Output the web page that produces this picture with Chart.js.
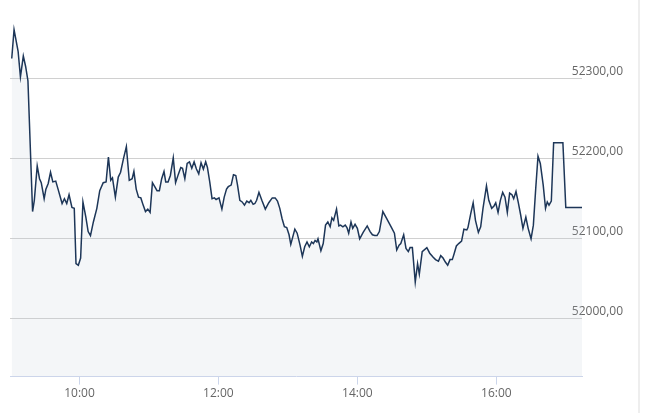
<!DOCTYPE html>
<html>
<head>
<meta charset="utf-8">
<script src="https://cdn.jsdelivr.net/npm/chart.js@4"></script>
<style>
html, body { margin: 0; padding: 0; background: #fff; }
#wrap { position: relative; width: 645px; height: 413px; }
#edge { position: absolute; left: 638px; top: 0; width: 2px; height: 413px; background: #eeeeee; }
</style>
</head>
<body>
<div id="wrap">
  <canvas id="chart" width="645" height="413"></canvas>
  <div id="edge"></div>
</div>
<script>
// minutes since midnight
const minutes = [541.5,543.5,547,549,551.5,553.5,555.5,559.5,561,563.5,565.5,567,569.5,571,573,575,577,579.5,581.5,585,
  587,589,591,593.5,595.5,597,599,601,603,605.5,607.5,609.5,612,615,617.5,620.5,623,625,627,628.5,
  631,633.5,635.5,638,640.5,643,645.5,647,649,651,653,655,657,659,661,663,665,667,669,671,
  673,674.5,676.5,678.5,681,683,685.5,687.5,689,691,693,695,697,699,701,703,705,707,709,710.5,
  712.5,714.5,716.5,718,720.5,723,725,727,728.5,731,733,735,736.5,738.5,740.5,742.5,744.5,746.5,748,750,
  751.5,753,755,757.5,760.5,763.5,766.5,769,771,773,775,777,779,781,782.5,786,788,790.5,792.5,794.5,
  796.5,798.5,800.5,802,803.5,805,806,808.5,810.5,812.5,814.5,816.5,818,819.5,822,824,825.5,827.5,829.5,831,
  832.5,834.5,836,838,840,842,845,848.5,851,853,855,857,859,862,865,866.5,869.5,872,874,876,
  877.5,880,882,884,885.5,887.5,890,892,893.5,896,900,902.5,905.5,907.5,910,912,914,916,918,920,
  922,923.5,925.5,927.5,930,932,934.5,935.5,938,940,942,944.5,946.5,948.5,951.5,953.5,956,958,959.5,961.5,
  963.5,965.5,967.5,969.5,971.5,973.5,975,977,979,981,983,985.5,987.5,990,992,994,996,998,1000.5,1002.5,
  1004,1005.5,1007.5,1009.5,1017.5,1020,1034];

const prices = [52325,52361,52334,52302,52328,52315,52297,52134,52148,52191,52175,52170,52150,52162,52169,52183,52171,52172,52162,52144,
  52150,52144,52155,52139,52138,52069,52067,52076,52146,52127,52109,52104,52121,52138,52160,52170,52171,52202,52173,52176,
  52152,52177,52183,52200,52215,52173,52175,52184,52162,52152,52151,52142,52134,52137,52133,52170,52165,52160,52160,52175,
  52184,52171,52171,52179,52201,52170,52181,52189,52188,52175,52194,52196,52188,52196,52187,52181,52195,52187,52196,52189,
  52171,52150,52151,52149,52151,52137,52152,52162,52165,52167,52180,52179,52167,52148,52146,52142,52147,52145,52148,52143,
  52144,52148,52158,52148,52137,52145,52151,52151,52147,52138,52125,52115,52114,52105,52093,52112,52107,52092,52078,52090,
  52096,52090,52096,52094,52098,52096,52100,52085,52094,52117,52121,52115,52126,52123,52137,52116,52117,52115,52117,52114,
  52107,52121,52113,52118,52113,52100,52108,52116,52109,52105,52104,52104,52109,52134,52126,52122,52114,52107,52086,52092,
  52094,52105,52088,52084,52089,52089,52046,52069,52056,52084,52089,52082,52077,52074,52072,52079,52076,52071,52067,52074,
  52074,52081,52091,52094,52097,52112,52111,52114,52132,52145,52123,52108,52115,52138,52166,52148,52138,52141,52145,52133,
  52148,52158,52152,52133,52157,52155,52150,52159,52145,52130,52113,52127,52113,52100,52117,52162,52203,52194,52167,52138,
  52146,52142,52147,52220,52220,52139,52139];

const timeTicks = ['10:00', '12:00', '14:00', '16:00'];
const priceTicks = [52000, 52100, 52200, 52300];

function toMinutes(label) {
    const [h, m] = label.split(':').map(Number);
    return h * 60 + m;
}

function toLabel(v) {
    const h = Math.floor(v / 60);
    const m = Math.round(v % 60);
    return String(h).padStart(2, '0') + ':' + String(m).padStart(2, '0');
}

const labelFont = { family: 'Open Sans', size: 12 };

new Chart(document.getElementById('chart'), {
    type: 'line',
    data: {
        datasets: [{
            data: minutes.map((m, i) => ({ x: m, y: prices[i] })),
            borderColor: '#1d3658',
            borderWidth: 1.5,
            backgroundColor: 'rgba(190,200,215,0.17)',  // see-through so the grid shows under it
            fill: 'start',
            pointRadius: 0,
            tension: 0,
            clip: { left: 0, right: 0, top: 4, bottom: 0 }
        }]
    },
    options: {
        responsive: false,
        animation: false,
        layout: { padding: { left: 10, top: 0, right: 0, bottom: 10 } },
        plugins: { legend: { display: false }, tooltip: { enabled: false } },
        scales: {
            x: {
                type: 'linear',
                min: 540,
                max: 1034,
                afterBuildTicks: s => { s.ticks = timeTicks.map(t => ({ value: toMinutes(t) })); },
                ticks: { callback: v => toLabel(v), color: '#666', font: labelFont, padding: 2, maxRotation: 0, autoSkip: false },
                grid: { drawOnChartArea: false, drawTicks: true, tickLength: 8, color: '#ccd6eb' },
                border: { color: '#ccd6eb', width: 1 }
            },
            y: {
                position: 'right',
                min: 51928,
                max: 52398,
                afterBuildTicks: s => { s.ticks = priceTicks.map(v => ({ value: v })); },
                afterFit: s => {
                    s.width = 63;
                    // the big tick padding below is only for the label x, not for the layout
                    s.paddingTop = 0;
                    s.paddingBottom = 0;
                },
                ticks: {
                    callback: v => v.toFixed(2).replace('.', ','),
                    mirror: true,      // mirror avoids the label clip; padding moves the right edge out
                    padding: 41,
                    labelOffset: -7,
                    color: '#666',
                    font: labelFont
                },
                grid: { color: '#d0d0d0', lineWidth: 1, drawTicks: false },
                border: { display: false }
            }
        }
    }
});
</script>
</body>
</html>
